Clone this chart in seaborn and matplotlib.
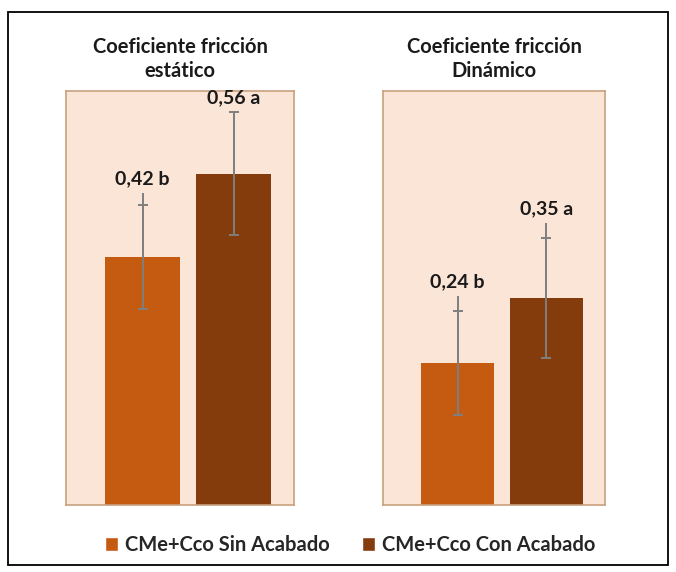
import matplotlib
matplotlib.use("Agg")
import matplotlib.pyplot as plt
import seaborn as sns
import pandas as pd
from matplotlib.patches import Rectangle

sns.set_theme(style="white")
plt.rcParams['font.family'] = ['Lato', 'DejaVu Sans']

groups = ["CMe+Cco Sin Acabado", "CMe+Cco Con Acabado"]
panel_titles = ["Coeficiente fricción\nestático", "Coeficiente fricción\nDinámico"]
static_values = [0.42, 0.56]
dynamic_values = [0.24, 0.35]
static_err = [0.088, 0.104]
dynamic_err = [0.088, 0.102]
static_ext = [0.02, 0.0]
dynamic_ext = [0.025, 0.025]
static_labels = ["0,42 b", "0,56 a"]
dynamic_labels = ["0,24 b", "0,35 a"]

colors = ["#C55A11", "#843C0C"]
palette = dict(zip(groups, colors))
bg = "#FBE5D6"
edge = "#C8A07E"

fig = plt.figure(figsize=(6.76, 5.72), dpi=100)
fig.patch.set_facecolor("white")
fig.add_artist(Rectangle((8/676, 1-565/572), 660/676, 553/572, transform=fig.transFigure,
                         fill=False, edgecolor="black", linewidth=1.3))

axes_pos = [[66/676, 1-505/572, 228/676, 414/572],
            [383/676, 1-505/572, 222/676, 414/572]]
datasets = [(static_values, static_err, static_ext, static_labels),
            (dynamic_values, dynamic_err, dynamic_ext, dynamic_labels)]

for pos, title, (vals, errs, exts, labs) in zip(axes_pos, panel_titles, datasets):
    ax = fig.add_axes(pos)
    df = pd.DataFrame({"grupo": groups, "valor": vals})
    sns.barplot(data=df, x="grupo", y="valor", hue="grupo", palette=palette,
                order=groups, hue_order=groups, width=0.82, dodge=False,
                legend=False, saturation=1, ax=ax, errorbar=None, linewidth=0)
    xs = [0, 1]
    ax.errorbar(xs, vals, yerr=errs, fmt="none", ecolor="#7F7F7F", elinewidth=1.4,
                capsize=3.5, capthick=1.4)
    ax.errorbar(xs, vals, yerr=[[0, 0], [e + x for e, x in zip(errs, exts)]], fmt="none",
                ecolor="#7F7F7F", elinewidth=1.4, capsize=0)
    for x, v, e, x2, lab in zip(xs, vals, errs, exts, labs):
        ax.text(x, v + e + x2 + 0.01, lab, ha="center", va="bottom",
                fontsize=14, fontweight="bold", color="#1a1a1a")
    ax.set_xlim(-0.84, 1.66)
    ax.set_ylim(0, 0.7)
    ax.set_facecolor(bg)
    for s in ax.spines.values():
        s.set_visible(True)
        s.set_color(edge)
        s.set_linewidth(1.2)
    ax.set_xticks([])
    ax.set_yticks([])
    ax.set_xlabel("")
    ax.set_ylabel("")
    ax.text(0.5, 1.025, title, transform=ax.transAxes, ha="center", va="bottom",
            fontsize=14.5, fontweight="bold", color="#1a1a1a", linespacing=1.25)

handles = [Rectangle((0, 0), 1, 1, facecolor=c) for c in colors]
fig.legend(handles, groups, loc="center", bbox_to_anchor=(0.518, 1-545/572), ncol=2,
           frameon=False, prop={"size": 14.5, "weight": "bold"}, handlelength=0.65,
           handleheight=0.65, handletextpad=0.35, columnspacing=1.6)

fig.savefig("out.png", dpi=100)
